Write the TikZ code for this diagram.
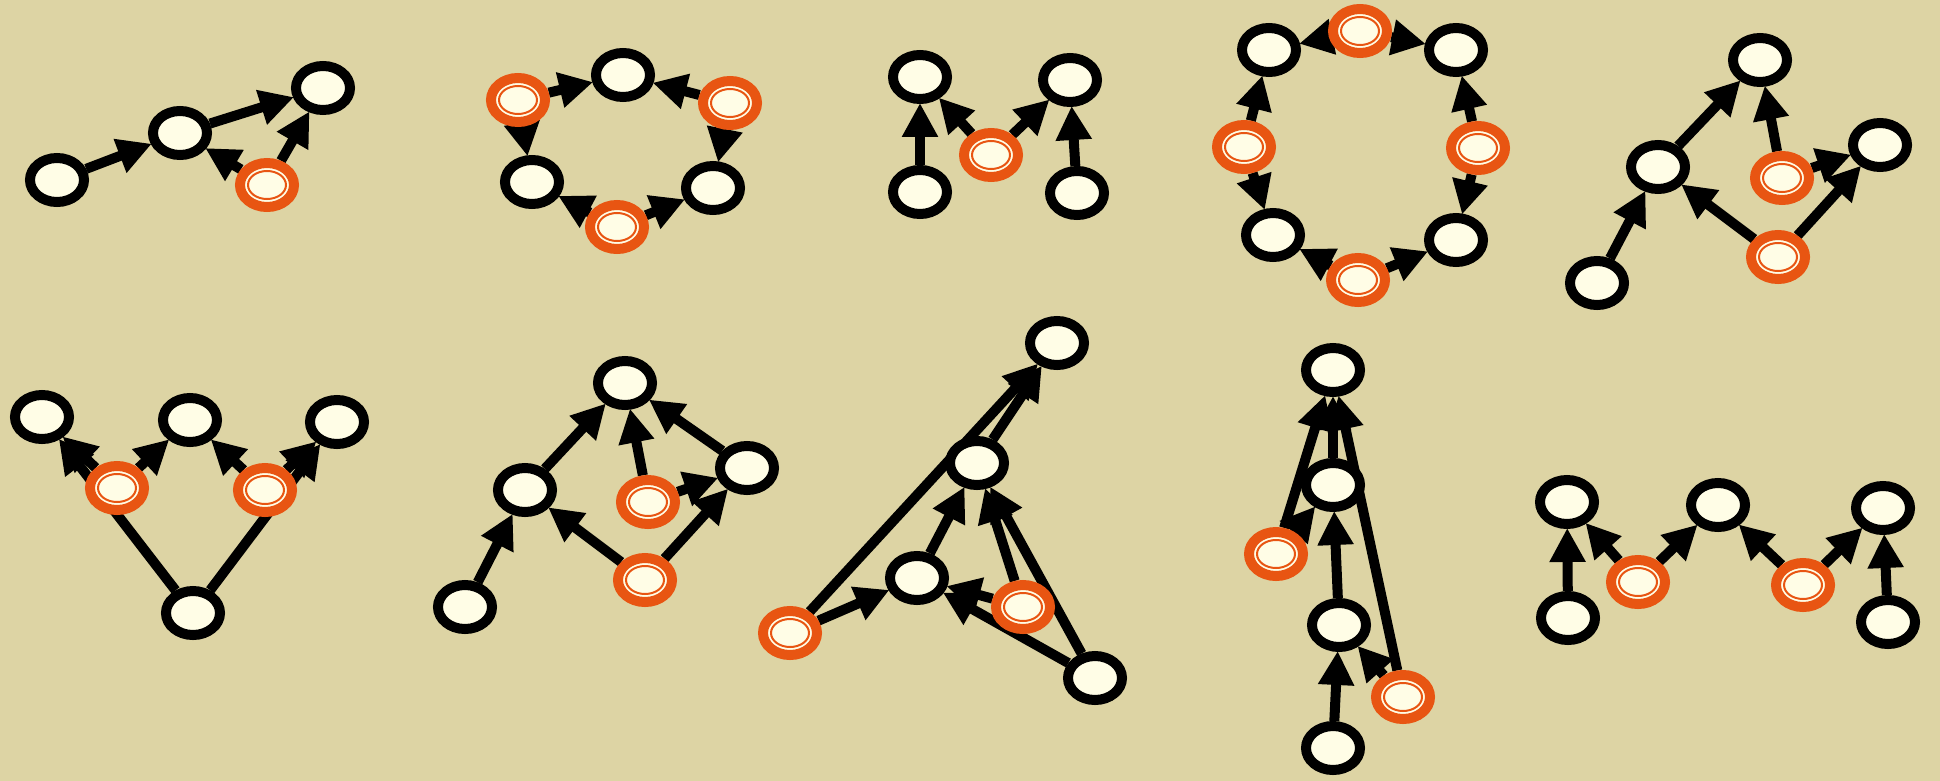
\documentclass[tikz,border=0pt]{standalone}
\usetikzlibrary{arrows.meta,shapes.geometric,shadows}
\definecolor{bgc}{HTML}{DDD4A4}
\definecolor{cream}{HTML}{FFFDE6}
\definecolor{orng}{HTML}{E85512}
\pgfdeclarelayer{bg}
\pgfsetlayers{bg,main}
\tikzset{
  nd/.style={ellipse, draw=black, fill=cream, line width=10pt, minimum width=54pt, minimum height=44pt, inner sep=0pt,
    drop shadow={opacity=0.22, shadow xshift=1.5pt, shadow yshift=-2.5pt}},
  on/.style={nd, draw=orng,
    path picture={\draw[orng, line width=2pt] (path picture bounding box.center) ellipse [x radius=19pt, y radius=14pt];}},
  arr/.style={line width=10pt, -{Triangle[length=34pt,width=34pt]}, shorten >=-1pt},
}
\begin{document}
\begin{tikzpicture}[x=1pt,y=-1pt]
\begin{pgfonlayer}{bg}
\fill[bgc] (0,0) rectangle (1940,781);
\end{pgfonlayer}
\useasboundingbox (0,0) rectangle (1940,781);
% graph 1
\node[nd] (a1) at (57,180) {};
\node[nd] (a2) at (180,133) {};
\node[nd] (a3) at (323,88) {};
\node[on] (ao) at (267,185) {};
% graph 2
\node[nd] (bt) at (623,75) {};
\node[on] (bol) at (518,100) {};
\node[on] (bor) at (730,103) {};
\node[nd] (blb) at (532,182) {};
\node[nd] (brb) at (713,188) {};
\node[on] (bob) at (617,227) {};
% graph 3
\node[nd] (ctl) at (920,77) {};
\node[nd] (ctr) at (1070,80) {};
\node[nd] (cbl) at (920,192) {};
\node[nd] (cbr) at (1077,193) {};
\node[on] (co) at (991,155) {};
% graph 4
\node[on] (dot) at (1360,31) {};
\node[nd] (dtl) at (1269,50) {};
\node[nd] (dtr) at (1456,50) {};
\node[on] (dol) at (1244,147) {};
\node[on] (dor) at (1478,148) {};
\node[nd] (dbl) at (1273,235) {};
\node[nd] (dbr) at (1456,240) {};
\node[on] (dob) at (1358,280) {};
% graph 5
\node[nd] (et) at (1760,60) {};
\node[nd] (em) at (1658,167) {};
\node[nd] (er) at (1880,145) {};
\node[on] (eo1) at (1782,178) {};
\node[on] (eo2) at (1778,257) {};
\node[nd] (ebl) at (1597,283) {};
% graph 6
\node[nd] (fl) at (42,417) {};
\node[nd] (fm) at (190,420) {};
\node[nd] (fr) at (337,422) {};
\node[on] (fo1) at (117,488) {};
\node[on] (fo2) at (265,490) {};
\node[nd] (fb) at (193,613) {};
% graph 7
\node[nd] (gt) at (625,383) {};
\node[nd] (gl) at (525,490) {};
\node[nd] (gr) at (747,468) {};
\node[on] (go1) at (648,502) {};
\node[on] (go2) at (645,580) {};
\node[nd] (gbl) at (465,607) {};
% graph 8
\node[nd] (ht) at (1057,343) {};
\node[nd] (hm) at (977,463) {};
\node[nd] (hc) at (917,578) {};
\node[on] (ho1) at (790,633) {};
\node[on] (ho2) at (1023,607) {};
\node[nd] (hbr) at (1095,678) {};
% graph 9
\node[nd] (it) at (1333,370) {};
\node[nd] (im) at (1333,485) {};
\node[on] (io1) at (1276,554) {};
\node[nd] (il) at (1339,625) {};
\node[on] (io2) at (1403,697) {};
\node[nd] (ib) at (1333,748) {};
% graph 10
\node[nd] (jtl) at (1567,502) {};
\node[nd] (jbl) at (1568,618) {};
\node[on] (jo1) at (1638,582) {};
\node[nd] (jm) at (1718,505) {};
\node[on] (jo2) at (1803,585) {};
\node[nd] (jtr) at (1883,508) {};
\node[nd] (jbr) at (1888,622) {};
\begin{pgfonlayer}{bg}
\draw[arr] (a1) -- (a2);
\draw[arr] (a2) -- (a3);
\draw[arr] (ao) -- (a2);
\draw[arr] (ao) -- (a3);
\draw[arr] (bol) -- (bt);
\draw[arr] (bol) -- (blb);
\draw[arr] (bor) -- (bt);
\draw[arr] (bor) -- (brb);
\draw[arr] (bob) -- (blb);
\draw[arr] (bob) -- (brb);
\draw[arr] (cbl) -- (ctl);
\draw[arr] (cbr) -- (ctr);
\draw[arr] (co) -- (ctl);
\draw[arr] (co) -- (ctr);
\draw[arr] (dot) -- (dtl);
\draw[arr] (dot) -- (dtr);
\draw[arr] (dol) -- (dtl);
\draw[arr] (dol) -- (dbl);
\draw[arr] (dor) -- (dtr);
\draw[arr] (dor) -- (dbr);
\draw[arr] (dob) -- (dbl);
\draw[arr] (dob) -- (dbr);
\draw[arr] (ebl) -- (em);
\draw[arr] (em) -- (et);
\draw[arr] (eo1) -- (et);
\draw[arr] (eo1) -- (er);
\draw[arr] (eo2) -- (em);
\draw[arr] (eo2) -- (er);
\draw[arr] (fb) -- (fl);
\draw[arr] (fb) -- (fr);
\draw[arr] (fo1) -- (fl);
\draw[arr] (fo1) -- (fm);
\draw[arr] (fo2) -- (fm);
\draw[arr] (fo2) -- (fr);
\draw[arr] (gbl) -- (gl);
\draw[arr] (gl) -- (gt);
\draw[arr] (go1) -- (gt);
\draw[arr] (go1) -- (gr);
\draw[arr] (gr) -- (gt);
\draw[arr] (go2) -- (gl);
\draw[arr] (go2) -- (gr);
\draw[arr] (ho1) -- (ht);
\draw[arr] (ho1) -- (hc);
\draw[arr] (hc) -- (hm);
\draw[arr] (hm) -- (ht);
\draw[arr] (ho2) -- (hc);
\draw[arr] (ho2) -- (hm);
\draw[arr] (hbr) -- (hc);
\draw[arr] (hbr) -- (hm);
\draw[arr] (io1) -- (it);
\draw[arr] (im) -- (it);
\draw[arr] (io2) -- (it);
\draw[arr] (io1) -- (im);
\draw[arr] (il) -- (im);
\draw[arr] (ib) -- (il);
\draw[arr] (io2) -- (il);
\draw[arr] (jbl) -- (jtl);
\draw[arr] (jo1) -- (jtl);
\draw[arr] (jo1) -- (jm);
\draw[arr] (jo2) -- (jm);
\draw[arr] (jo2) -- (jtr);
\draw[arr] (jbr) -- (jtr);
\end{pgfonlayer}
\end{tikzpicture}
\end{document}
